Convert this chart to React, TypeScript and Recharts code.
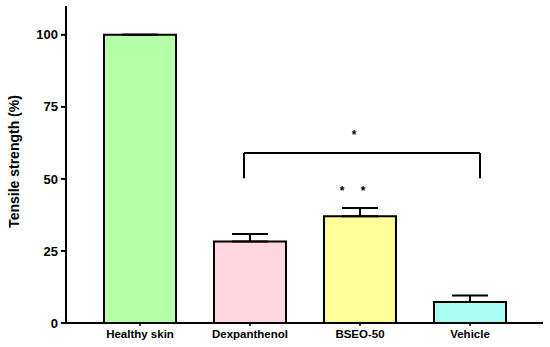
import { Bar, BarChart, Cell, ErrorBar, ReferenceDot, ReferenceLine, XAxis, YAxis } from "recharts"

const groups = ["Healthy skin", "Dexpanthenol", "BSEO-50", "Vehicle"]
const strength = [100, 28.3, 37, 7.3]
const sem = [0, 2.6, 2.9, 2.2]
const colors = ["#b5ffa8", "#ffd6e0", "#ffff99", "#aafff5"]
const yTicks = [0, 25, 50, 75, 100]

// significance bracket Dexpanthenol vs Vehicle
const bracketFrom = "Dexpanthenol"
const bracketTo = "Vehicle"
const bracketY = [50.2, 59]
const starY = 65.5
const doubleStarY = 46

const data = groups.map((g, i) => ({ group: g, value: strength[i], err: [0, sem[i]] }))

const font = "'Liberation Sans', Arial, sans-serif"

const star = (dx: number) => (props: any) => (
  <text x={props.cx + dx} y={props.cy + 5} textAnchor="middle" fontFamily={font} fontSize={12} fontWeight="bold" fill="#000">
    *
  </text>
)

// vertical leg of the bracket, nudged a little off the bar centre like in the figure
const leg = (dx: number) => (props: any) => (
  <line x1={props.x1 + dx} y1={props.y1} x2={props.x2 + dx} y2={props.y2} stroke="#000" strokeWidth={2} />
)
const top = (props: any) => (
  <line x1={props.x1 - 6} y1={props.y1} x2={props.x2 + 10} y2={props.y2} stroke="#000" strokeWidth={2} />
)

export default function App() {
  return (
    <div style={{ position: "absolute", left: 0, top: 0 }}>
      <BarChart width={550} height={347} data={data} margin={{ top: 6, right: 7, bottom: 0, left: 0 }}>
        <XAxis
          dataKey="group"
          height={24}
          padding={{ left: 19, right: 18 }}
          axisLine={{ stroke: "#000", strokeWidth: 2 }}
          tickLine={{ stroke: "#000", strokeWidth: 1.5 }}
          tickSize={3}
          tickMargin={4}
          tick={{ fill: "#000", fontSize: 11.5, fontWeight: "bold", fontFamily: font }}
          interval={0}
        />
        <YAxis
          domain={[0, 110]}
          ticks={yTicks}
          width={66}
          allowDataOverflow
          axisLine={{ stroke: "#000", strokeWidth: 2 }}
          tickLine={{ stroke: "#000", strokeWidth: 2 }}
          tickSize={5}
          tickMargin={3}
          tick={{ fill: "#000", fontSize: 13, fontWeight: "bold", fontFamily: font }}
          label={{
            value: "Tensile strength (%)",
            angle: -90,
            position: "insideLeft",
            offset: 14,
            dy: -3,
            style: { textAnchor: "middle", fill: "#000", fontSize: 14, fontWeight: "bold", fontFamily: font },
          }}
        />
        <Bar dataKey="value" barSize={72} stroke="#000" strokeWidth={2} isAnimationActive={false}>
          {data.map((d, i) => (
            <Cell key={d.group} fill={colors[i]} />
          ))}
          <ErrorBar dataKey="err" width={18} stroke="#000" strokeWidth={2} direction="y" />
        </Bar>
        <ReferenceLine segment={[{ x: bracketFrom, y: bracketY[0] }, { x: bracketFrom, y: bracketY[1] }]} shape={leg(-6)} />
        <ReferenceLine segment={[{ x: bracketFrom, y: bracketY[1] }, { x: bracketTo, y: bracketY[1] }]} shape={top} />
        <ReferenceLine segment={[{ x: bracketTo, y: bracketY[1] }, { x: bracketTo, y: bracketY[0] }]} shape={leg(10)} />
        <ReferenceDot x="BSEO-50" y={starY} r={0} shape={star(-6)} />
        <ReferenceDot x="BSEO-50" y={doubleStarY} r={0} shape={star(-18)} />
        <ReferenceDot x="BSEO-50" y={doubleStarY} r={0} shape={star(3)} />
      </BarChart>
    </div>
  )
}
